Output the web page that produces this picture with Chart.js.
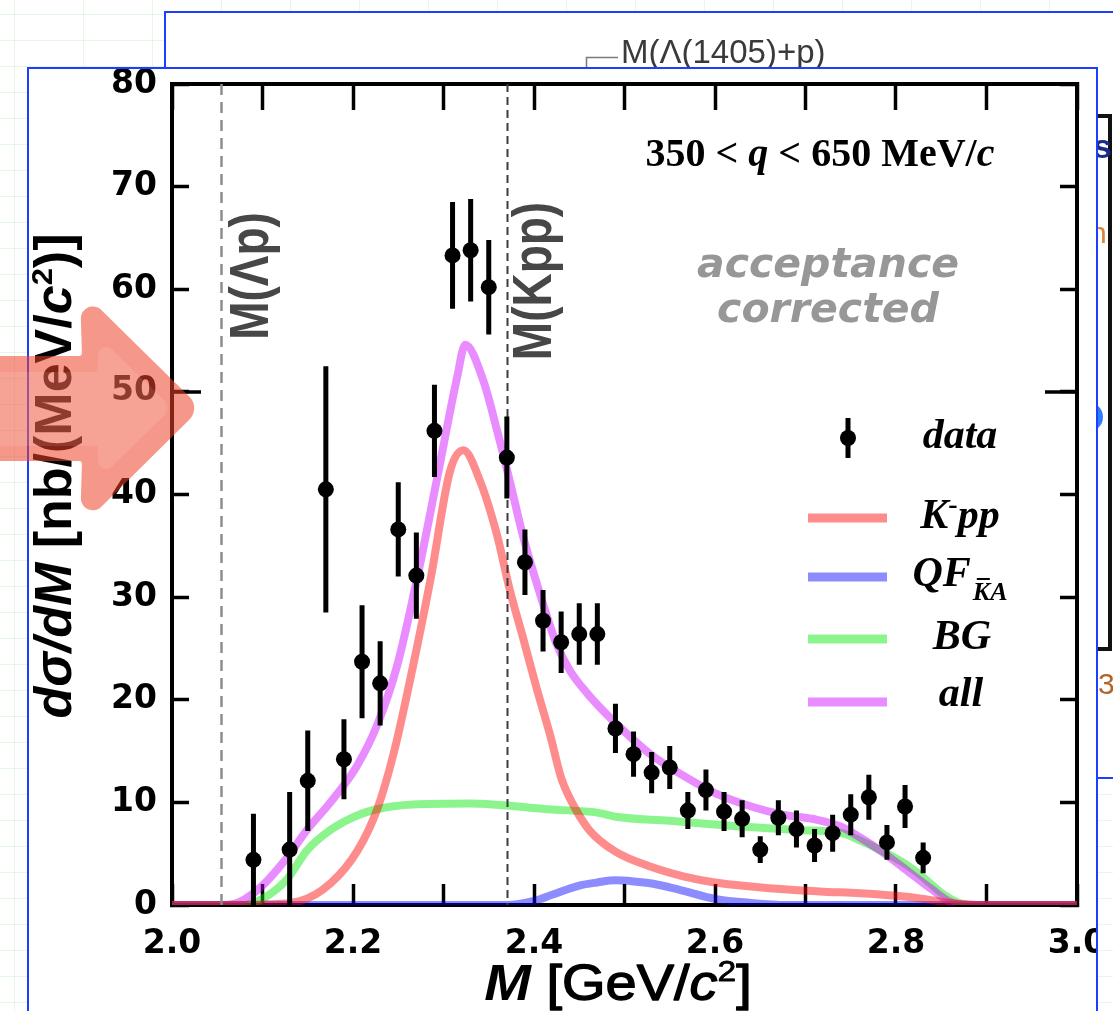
<!DOCTYPE html>
<html>
<head>
<meta charset="utf-8">
<style>
  html, body { margin: 0; padding: 0; background: #fff; overflow: hidden; }
  #stage { position: absolute; left: 0; top: 0; width: 1113px; height: 1011px; }
  canvas { display: block; }
</style>
<script src="https://cdn.jsdelivr.net/npm/chart.js@4.4.1/dist/chart.umd.min.js"></script>
</head>
<body>
<div id="stage"><canvas id="spectrum" width="1113" height="1011" style="width:1113px;height:1011px"></canvas></div>
<script>
// ---- measured spectrum: dσ/dM in nb/(MeV/c^2), 20 MeV bins ----
const massBins = [2.09, 2.13, 2.15, 2.17, 2.19, 2.21, 2.23, 2.25, 2.27, 2.29,
                  2.31, 2.33, 2.35, 2.37, 2.39, 2.41, 2.43, 2.45, 2.47, 2.49,
                  2.51, 2.53, 2.55, 2.57, 2.59, 2.61, 2.63, 2.65, 2.67, 2.69,
                  2.71, 2.73, 2.75, 2.77, 2.79, 2.81, 2.83];
const dsigma = [4.4, 5.4, 12.1, 40.5, 14.2, 23.7, 21.6, 36.6, 32.1, 46.2,
                63.3, 63.8, 60.2, 43.6, 33.4, 27.7, 25.6, 26.4, 26.4, 17.2,
                14.7, 12.9, 13.4, 9.2, 11.2, 9.1, 8.4, 5.4, 8.5, 7.4,
                5.8, 7.0, 8.8, 10.5, 6.1, 9.6, 4.6];
const dsigmaErr = [4.5, 5.6, 4.9, 12.0, 3.9, 5.5, 4.1, 4.6, 4.2, 4.5,
                   5.2, 5.0, 4.6, 4.0, 3.2, 3.0, 3.0, 3.0, 3.0, 2.4,
                   2.2, 2.0, 2.1, 1.8, 2.0, 1.9, 1.8, 1.3, 1.7, 1.8,
                   1.6, 1.8, 2.0, 2.2, 1.7, 2.1, 1.5];

// ---- fit components ----
const kppMass  = [2.00, 2.06, 2.10, 2.14, 2.175, 2.205, 2.227, 2.245, 2.264, 2.286, 2.307, 2.322, 2.340, 2.359, 2.373, 2.388, 2.403, 2.418, 2.430, 2.445, 2.462, 2.49, 2.53, 2.565, 2.60, 2.64, 2.68, 2.72, 2.76, 2.80, 2.83, 2.86, 2.90, 3.00];
const kppYield = [0, 0, 0.05, 0.35, 2.1, 5.3, 9.4, 14.8, 22.3, 31.9, 42.2, 44.3, 41.4, 36.1, 30.8, 26.0, 21.1, 16.5, 12.4, 9.5, 7.2, 5.2, 3.7, 2.8, 2.2, 1.8, 1.5, 1.3, 1.15, 0.9, 0.6, 0.2, 0, 0];

const qfMass  = [2.00, 2.37, 2.40, 2.42, 2.45, 2.47, 2.49, 2.51, 2.53, 2.56, 2.60, 2.64, 2.68, 3.00];
const qfYield = [0, 0, 0.4, 1.0, 1.9, 2.2, 2.4, 2.3, 2.1, 1.5, 0.6, 0.2, 0, 0];

const bgMass  = [2.00, 2.08, 2.10, 2.127, 2.149, 2.175, 2.204, 2.23, 2.266, 2.33, 2.42, 2.47, 2.49, 2.55, 2.62, 2.69, 2.74, 2.76, 2.786, 2.81, 2.83, 2.85, 2.87, 2.89, 3.00];
const bgYield = [0, 0, 0.6, 2.5, 5.3, 7.3, 8.7, 9.4, 9.8, 9.9, 9.3, 9.0, 8.6, 8.2, 7.7, 7.3, 7.0, 6.3, 5.2, 4.0, 2.7, 1.2, 0.2, 0, 0];

const allMass  = [2.00, 2.06, 2.075, 2.10, 2.127, 2.149, 2.175, 2.204, 2.227, 2.249, 2.271, 2.293, 2.315, 2.324, 2.344, 2.359, 2.373, 2.388, 2.407, 2.425, 2.44, 2.46, 2.48, 2.50, 2.53, 2.565, 2.60, 2.64, 2.675, 2.713, 2.74, 2.76, 2.786, 2.816, 2.84, 2.86, 2.88, 3.00];
const allYield = [0, 0, 0.3, 1.9, 4.6, 7.3, 10.0, 13.5, 17.6, 23.4, 31.9, 41.6, 51.4, 54.6, 51.1, 46.3, 41.4, 35.9, 30.2, 25.4, 22.8, 20.5, 18.6, 16.9, 14.6, 12.6, 10.9, 9.6, 8.8, 8.3, 7.6, 6.6, 5.1, 3.1, 1.5, 0.3, 0, 0];

// ---- axes ----
const xTickValues = [2.0, 2.1, 2.2, 2.3, 2.4, 2.5, 2.6, 2.7, 2.8, 2.9, 3.0];
const xTickLabels = ['2.0', '', '2.2', '', '2.4', '', '2.6', '', '2.8', '', '3.0'];
const yTickValues = [0, 10, 20, 30, 40, 50, 60, 70, 80];
const yTickLabels = ['0', '10', '20', '30', '40', '50', '60', '70', '80'];

// thresholds M(Λp) = mΛ + mp, M(K̄NN) = mK + 2 mp
const thresholdMass   = [2.054, 2.370];
const thresholdLabels = ['M(\u039Bp)', 'M(Kpp)'];

const COLORS = {
  kpp: 'rgba(255, 0, 0, 0.45)',
  qf:  'rgba(0, 0, 255, 0.45)',
  bg:  'rgba(0, 230, 0, 0.45)',
  all: 'rgba(205, 0, 255, 0.45)'
};
const BLUE_FRAME = '#1d3dff';
const FRONT = { left: 28, top: 68, right: 1097 };

const SANS  = '"Liberation Sans", Arial, Helvetica, sans-serif';
const SERIF = '"Liberation Serif", "Times New Roman", serif';
const WIDE  = '"DejaVu Sans", Verdana, sans-serif';

const pts = (xs, ys) => xs.map((v, i) => ({ x: v, y: ys[i] }));

// draws a run of differently styled text pieces along one baseline
function drawRich(ctx, parts, x, y, opt = {}) {
  const align = opt.align || 'center';
  ctx.save();
  ctx.translate(x, y);
  ctx.scale(opt.sx || 1, 1);
  if (opt.rot) ctx.rotate(opt.rot);
  ctx.textAlign = 'left';
  ctx.textBaseline = 'alphabetic';
  let total = 0;
  for (const p of parts) {
    ctx.font = p.font;
    p._w = ctx.measureText(p.text).width + (p.kern || 0);
    total += p._w;
  }
  let cx = align === 'center' ? -total / 2 : (align === 'right' ? -total : 0);
  for (const p of parts) {
    const col = p.color || opt.color || '#000';
    ctx.font = p.font;
    ctx.fillStyle = col;
    ctx.fillText(p.text, cx, p.dy || 0);
    if (p.heavy) {
      ctx.strokeStyle = col;
      ctx.lineWidth = p.heavy;
      ctx.lineJoin = 'round';
      ctx.strokeText(p.text, cx, p.dy || 0);
    }
    if (p.bar) {
      ctx.strokeStyle = col;
      ctx.lineWidth = 2;
      ctx.beginPath();
      ctx.moveTo(cx + p.bar[0], (p.dy || 0) + p.bar[2]);
      ctx.lineTo(cx + p.bar[1], (p.dy || 0) + p.bar[2]);
      ctx.stroke();
    }
    cx += p._w;
  }
  ctx.restore();
}

function roundedPoly(ctx, points) {
  const n = points.length;
  const a = points[n - 1], b = points[0];
  ctx.beginPath();
  ctx.moveTo((a[0] + b[0]) / 2, (a[1] + b[1]) / 2);
  for (let i = 0; i < n; i++) {
    const p = points[i], q = points[(i + 1) % n];
    ctx.arcTo(p[0], p[1], q[0], q[1], p[2] || 0.01);
  }
  ctx.closePath();
}

function frontBorder(ctx, H) {
  ctx.save();
  ctx.strokeStyle = BLUE_FRAME;
  ctx.lineWidth = 2;
  ctx.strokeRect(FRONT.left, FRONT.top, FRONT.right - FRONT.left, H + 20);
  ctx.restore();
}

// page furniture behind the plot: grid paper, rear slide, front slide
const pageBackdrop = {
  id: 'pageBackdrop',
  beforeDraw(chart) {
    const ctx = chart.ctx;
    const W = chart.width, H = chart.height;
    ctx.save();
    ctx.fillStyle = '#ffffff';
    ctx.fillRect(0, 0, W, H);

    ctx.strokeStyle = 'rgba(205, 240, 205, 0.5)';
    ctx.lineWidth = 1;
    ctx.beginPath();
    for (let gy = 14; gy < H; gy += 26) { ctx.moveTo(0, gy + 0.5); ctx.lineTo(W, gy + 0.5); }
    for (let gx = 14; gx < W; gx += 69) { ctx.moveTo(gx + 0.5, 0); ctx.lineTo(gx + 0.5, H); }
    ctx.stroke();

    // rear slide
    ctx.fillStyle = '#ffffff';
    ctx.fillRect(165, 12, W - 165 + 20, 766);
    ctx.strokeStyle = BLUE_FRAME;
    ctx.lineWidth = 2;
    ctx.strokeRect(165, 12, W - 165 + 20, 766);

    // rear slide contents peeking out
    drawRich(ctx, [{ text: 'M(\u039B(1405)+p)', font: '33px ' + SANS, color: '#3a3a3a' }], 621, 63, { align: 'left' });
    ctx.strokeStyle = '#7a7a7a';
    ctx.lineWidth = 1.5;
    ctx.beginPath();
    ctx.moveTo(618, 57.5); ctx.lineTo(586.5, 57.5); ctx.lineTo(586.5, 70);
    ctx.stroke();

    ctx.save();
    ctx.beginPath(); ctx.rect(1097, 13, 30, 764); ctx.clip();
    ctx.strokeStyle = '#111';
    ctx.lineWidth = 4;
    ctx.beginPath();
    ctx.moveTo(1090, 116); ctx.lineTo(1110, 116); ctx.lineTo(1110, 649); ctx.lineTo(1090, 649);
    ctx.stroke();
    ctx.fillStyle = '#1a2a8a';
    ctx.font = 'bold 34px ' + SANS;
    ctx.fillText('s', 1093, 158);
    ctx.fillStyle = '#d9853b';
    ctx.font = '30px ' + SANS;
    ctx.fillText('n', 1090, 243);
    ctx.fillStyle = '#2f7dff';
    ctx.beginPath(); ctx.arc(1088, 417, 15, 0, Math.PI * 2); ctx.fill();
    ctx.fillStyle = '#b0652b';
    ctx.font = '30px ' + SANS;
    ctx.fillText('3', 1098, 694);
    ctx.restore();

    // front slide
    ctx.fillStyle = '#ffffff';
    ctx.fillRect(FRONT.left, FRONT.top, FRONT.right - FRONT.left, H);
    frontBorder(ctx, H);
    ctx.restore();

    // everything the chart draws stays inside the front slide
    ctx.save();
    ctx.beginPath();
    ctx.rect(FRONT.left + 1, FRONT.top + 1, FRONT.right - FRONT.left - 2, H);
    ctx.clip();
  }
};

// threshold markers and error bars, drawn just before the data points
const markerLayer = {
  id: 'markerLayer',
  beforeDatasetDraw(chart, args) {
    if (args.index !== 0) return;
    const { ctx, chartArea: ca, scales: { x, y } } = chart;
    ctx.save();
    ctx.beginPath();
    ctx.rect(ca.left, ca.top, ca.right - ca.left, ca.bottom - ca.top);
    ctx.clip();

    const styles = [{ c: '#8d8d8d', w: 2.5, d: [11, 7] }, { c: '#3c3c3c', w: 2, d: [8, 5] }];
    thresholdMass.forEach((m, i) => {
      const px = Math.round(x.getPixelForValue(m)) + 0.5;
      ctx.strokeStyle = styles[i].c;
      ctx.lineWidth = styles[i].w;
      ctx.setLineDash(styles[i].d);
      ctx.beginPath();
      ctx.moveTo(px, ca.top);
      ctx.lineTo(px, ca.bottom);
      ctx.stroke();
    });
    ctx.setLineDash([]);

    ctx.strokeStyle = '#000';
    ctx.lineWidth = 5;
    ctx.beginPath();
    massBins.forEach((m, i) => {
      const px = x.getPixelForValue(m);
      ctx.moveTo(px, y.getPixelForValue(dsigma[i] - dsigmaErr[i]));
      ctx.lineTo(px, y.getPixelForValue(dsigma[i] + dsigmaErr[i]));
    });
    ctx.stroke();
    ctx.restore();
  }
};

// annotations, legend, axis titles and the pointer arrow
const overlay = {
  id: 'overlay',
  afterDraw(chart) {
    const { ctx, chartArea: ca, scales: { x, y } } = chart;

    // major ticks at 50
    const y50 = y.getPixelForValue(50);
    ctx.save();
    ctx.strokeStyle = '#000';
    ctx.lineWidth = 3.5;
    ctx.beginPath();
    ctx.moveTo(ca.left, y50); ctx.lineTo(ca.left + 29, y50);
    ctx.moveTo(ca.right, y50); ctx.lineTo(ca.right - 32, y50);
    ctx.stroke();
    ctx.restore();

    const B40 = 'bold 40px ' + SERIF, BI40 = 'italic bold 40px ' + SERIF;
    drawRich(ctx, [
      { text: '350 < ', font: B40 }, { text: 'q', font: BI40 },
      { text: ' < 650 MeV/', font: B40 }, { text: 'c', font: BI40 }
    ], 820, 166);

    const grayFont = 'oblique bold 41px ' + WIDE;
    drawRich(ctx, [{ text: 'acceptance', font: grayFont }], 828, 277, { color: '#979797' });
    drawRich(ctx, [{ text: 'corrected', font: grayFont }], 828, 322, { color: '#979797' });

    // threshold labels
    const thrFont = 'bold 46px ' + SANS;
    drawRich(ctx, [{ text: thresholdLabels[0], font: thrFont }], x.getPixelForValue(thresholdMass[0]) + 47, 276,
      { rot: -Math.PI / 2, sx: 1.2, color: '#474747' });
    drawRich(ctx, [{ text: thresholdLabels[1], font: thrFont }], x.getPixelForValue(thresholdMass[1]) + 44, 281,
      { rot: -Math.PI / 2, sx: 1.2, color: '#474747' });

    // legend
    const LBI = 'italic bold 42px ' + SERIF;
    const LBIs = 'italic bold 26px ' + SERIF;
    const LBs = 'bold 28px ' + SERIF;
    ctx.save();
    ctx.strokeStyle = '#000';
    ctx.lineWidth = 5;
    ctx.beginPath(); ctx.moveTo(848, 418); ctx.lineTo(848, 458); ctx.stroke();
    ctx.fillStyle = '#000';
    ctx.beginPath(); ctx.arc(848, 438, 8, 0, Math.PI * 2); ctx.fill();
    const legendRows = [
      { y: 518, c: COLORS.kpp }, { y: 577, c: COLORS.qf },
      { y: 639, c: COLORS.bg },  { y: 702, c: COLORS.all }
    ];
    ctx.lineWidth = 9;
    legendRows.forEach(r => {
      ctx.strokeStyle = r.c;
      ctx.beginPath(); ctx.moveTo(808, r.y); ctx.lineTo(887, r.y); ctx.stroke();
    });
    ctx.restore();
    drawRich(ctx, [{ text: 'data', font: LBI }], 960, 448);
    drawRich(ctx, [{ text: 'K', font: LBI }, { text: '-', font: LBs, dy: -15 }, { text: 'pp', font: LBI }], 960, 528);
    drawRich(ctx, [{ text: 'QF', font: LBI, kern: 2 }, { text: 'K', font: LBIs, dy: 14, bar: [4, 17, -21] }, { text: 'A', font: LBIs, dy: 14 }], 960, 586);
    drawRich(ctx, [{ text: 'BG', font: LBI }], 962, 649);
    drawRich(ctx, [{ text: 'all', font: LBI }], 961, 706);

    // axis titles
    const T = 52;
    drawRich(ctx, [
      { text: 'd\u03C3/dM', font: 'italic bold ' + T + 'px ' + SANS },
      { text: ' [nb/(MeV/', font: 'bold ' + T + 'px ' + SANS },
      { text: 'c', font: 'italic bold ' + T + 'px ' + SANS },
      { text: '2', font: 'bold ' + Math.round(T * 0.6) + 'px ' + SANS, dy: -19 },
      { text: ')]', font: 'bold ' + T + 'px ' + SANS }
    ], 71, 476, { rot: -Math.PI / 2, sx: 0.98 });

    const XT = 50;
    drawRich(ctx, [
      { text: 'M', font: 'italic bold ' + XT + 'px ' + SANS },
      { text: ' [GeV/', font: XT + 'px ' + SANS, heavy: 1.3 },
      { text: 'c', font: 'italic ' + XT + 'px ' + SANS, heavy: 1.3 },
      { text: '2', font: Math.round(XT * 0.6) + 'px ' + SANS, dy: -19, heavy: 0.8 },
      { text: ']', font: XT + 'px ' + SANS, heavy: 1.3 }
    ], 618, 1000, { sx: 1.12 });

    // release the front-slide clip, then restore its border
    ctx.restore();
    frontBorder(ctx, chart.height);

    // pointer arrow
    ctx.save();
    roundedPoly(ctx, [[-30, 356], [82, 356, 3], [80, 289, 12], [201, 408, 16], [80, 528, 12], [82, 461, 3], [-30, 461]]);
    ctx.fillStyle = 'rgba(236, 68, 40, 0.55)';
    ctx.fill();
    roundedPoly(ctx, [[-30, 372], [98, 372, 3], [98, 336, 8], [172, 408, 10], [98, 480, 8], [98, 446, 3], [-30, 446]]);
    ctx.fillStyle = 'rgba(255, 255, 255, 0.10)';
    ctx.fill();
    ctx.restore();
  }
};

const tickFont = { family: WIDE, size: 33, weight: 'bold', lineHeight: 1 };
const frameGrid = len => ({ drawOnChartArea: false, drawTicks: true, tickLength: len, tickWidth: 3.5, tickColor: '#000' });
const frameBorder = { display: true, width: 4, color: '#000' };
const fixBox = (w, h) => s => {
  if (w !== null) s.width = w;
  if (h !== null) s.height = h;
  s.paddingLeft = 0; s.paddingRight = 0; s.paddingTop = 0; s.paddingBottom = 0;
};

new Chart(document.getElementById('spectrum'), {
  type: 'scatter',
  data: {
    datasets: [
      { label: 'data', data: pts(massBins, dsigma), showLine: false,
        pointRadius: 8, pointBackgroundColor: '#000', pointBorderWidth: 0, pointStyle: 'circle' },
      { label: 'K-pp', data: pts(kppMass, kppYield), showLine: true, pointRadius: 0,
        borderColor: COLORS.kpp, borderWidth: 8, cubicInterpolationMode: 'monotone' },
      { label: 'all', data: pts(allMass, allYield), showLine: true, pointRadius: 0,
        borderColor: COLORS.all, borderWidth: 8, cubicInterpolationMode: 'monotone' },
      { label: 'BG', data: pts(bgMass, bgYield), showLine: true, pointRadius: 0,
        borderColor: COLORS.bg, borderWidth: 8, cubicInterpolationMode: 'monotone' },
      { label: 'QF', data: pts(qfMass, qfYield), showLine: true, pointRadius: 0,
        borderColor: COLORS.qf, borderWidth: 8, cubicInterpolationMode: 'monotone' }
    ]
  },
  options: {
    responsive: false,
    devicePixelRatio: 1,
    animation: false,
    events: [],
    layout: { padding: 0 },
    plugins: { legend: { display: false }, tooltip: { enabled: false }, title: { display: false } },
    scales: {
      x: {
        type: 'linear', position: 'bottom', min: 2.0, max: 3.0,
        afterBuildTicks: s => { s.ticks = xTickValues.map(v => ({ value: v })); },
        afterFit: fixBox(null, 106),
        ticks: { autoSkip: false, maxRotation: 0, color: '#000', font: tickFont, padding: 44,
                 callback: (v, i) => xTickLabels[i] },
        grid: frameGrid(-21), border: frameBorder
      },
      x2: {
        type: 'linear', position: 'top', axis: 'x', min: 2.0, max: 3.0,
        afterBuildTicks: s => { s.ticks = xTickValues.map(v => ({ value: v })); },
        afterFit: fixBox(null, 84),
        ticks: { autoSkip: false, maxRotation: 0, callback: () => '' },
        grid: frameGrid(-26), border: frameBorder
      },
      y: {
        type: 'linear', position: 'left', min: 0, max: 80,
        afterBuildTicks: s => { s.ticks = yTickValues.map(v => ({ value: v })); },
        afterFit: fixBox(172, null),
        ticks: { color: '#000', font: tickFont, padding: 32, callback: (v, i) => yTickLabels[i] },
        grid: frameGrid(-17), border: frameBorder
      },
      y2: {
        type: 'linear', position: 'right', axis: 'y', min: 0, max: 80,
        afterBuildTicks: s => { s.ticks = yTickValues.map(v => ({ value: v })); },
        afterFit: fixBox(36, null),
        ticks: { callback: () => '' },
        grid: frameGrid(-17), border: frameBorder
      }
    }
  },
  plugins: [pageBackdrop, markerLayer, overlay]
});
</script>
</body>
</html>
